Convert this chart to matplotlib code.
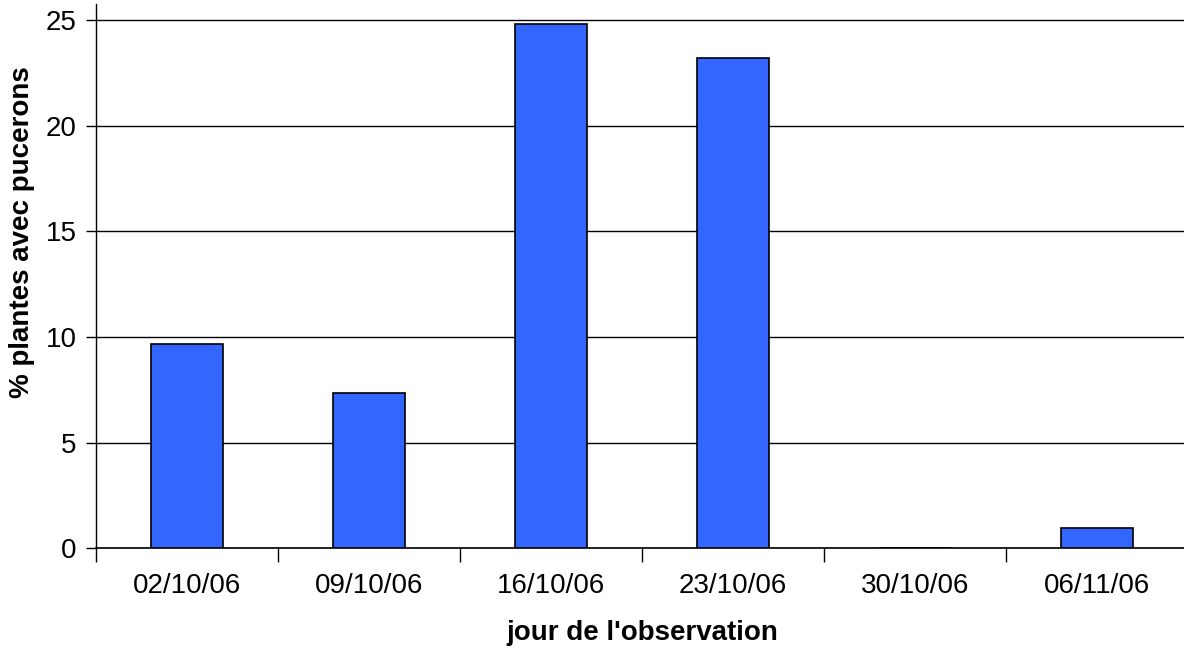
import matplotlib
matplotlib.use("Agg")
import matplotlib.pyplot as plt
import numpy as np

plt.rcParams["font.family"] = ["Liberation Sans", "DejaVu Sans"]

dates = ["02/10/06", "09/10/06", "16/10/06", "23/10/06", "30/10/06", "06/11/06"]
pct_aphids = [9.65, 7.37, 24.8, 23.2, 0.0, 0.95]
y_ticks = [0, 5, 10, 15, 20, 25]

fig = plt.figure(figsize=(11.84, 6.49), dpi=100)
ax = fig.add_axes([96 / 1184, 1 - 548.3 / 649, 1092 / 1184, 544.3 / 649])

x = np.arange(len(dates))
ax.bar(x, pct_aphids, width=0.4, color="#3366FF", edgecolor="black",
       linewidth=1.2, zorder=3)

ax.set_xlim(-0.5, len(dates) - 0.5)
ax.set_ylim(0, 25.77)
ax.set_yticks(y_ticks)
ax.set_yticklabels([str(t) for t in y_ticks], fontsize=20)
ax.yaxis.grid(True, color="black", linewidth=1.0, zorder=0)
ax.set_axisbelow(True)

# category labels centred, tick marks at category boundaries
ax.set_xticks(x)
ax.set_xticklabels(dates, fontsize=20)
ax.tick_params(axis="x", which="major", length=0, pad=18)
ax.set_xticks(np.arange(len(dates) + 1) - 0.5, minor=True)
ax.tick_params(axis="x", which="minor", length=10, width=1.0, direction="out")
ax.tick_params(axis="y", length=7, width=1.0, direction="out", pad=7)

for side in ["top", "right"]:
    ax.spines[side].set_visible(False)
ax.spines["left"].set_linewidth(1.0)
ax.spines["bottom"].set_linewidth(1.2)

ax.set_xlabel("jour de l'observation", fontsize=20, fontweight="bold")
ax.set_ylabel("% plantes avec pucerons", fontsize=20, fontweight="bold")
ax.xaxis.set_label_coords(0.5, -(633 - 548.3) / 544.3, transform=ax.transAxes)
ax.yaxis.set_label_coords(-(96 - 22) / 1092, (548.3 - 232) / 544.3, transform=ax.transAxes)
ax.xaxis.label.set_verticalalignment("center")
ax.yaxis.label.set_verticalalignment("center")

fig.savefig("out.png", dpi=100)
